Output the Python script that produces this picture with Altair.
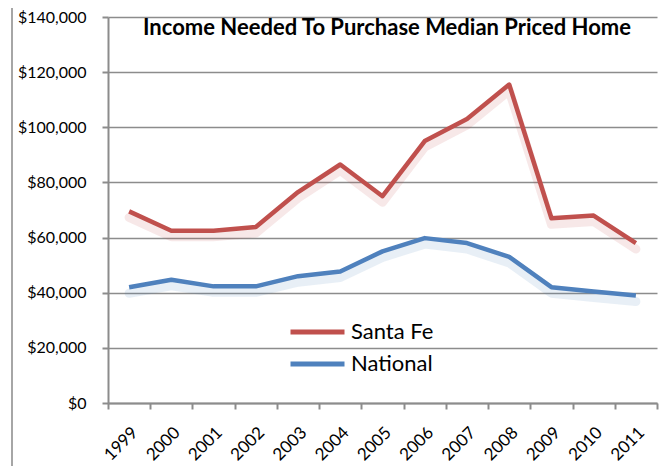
import altair as alt
import pandas as pd

years = [str(y) for y in range(1999, 2012)]
santa_fe = [69500, 62500, 62500, 63800, 76500, 86500, 75000, 95000, 103000, 115500, 67000, 68000, 58000]
national = [42000, 44700, 42300, 42300, 46000, 47700, 55000, 59800, 58000, 53000, 42000, 40400, 39000]
series = ["Santa Fe", "National"]
colors = ["#C0504D", "#4F81BD"]
y_ticks = [0, 20000, 40000, 60000, 80000, 100000, 120000, 140000]
title_text = "Income Needed To Purchase Median Priced Home"

df = pd.DataFrame({
    "Year": years * 2,
    "Value": santa_fe + national,
    "Series": [series[0]] * len(years) + [series[1]] * len(years),
})

FONT = "Lato"

x_enc = alt.X(
    "Year:O",
    bandPosition=0.5,
    scale=alt.Scale(type="band", paddingInner=0, paddingOuter=0),
    axis=alt.Axis(
        title=None, labelAngle=-45, labelAlign="right", labelBaseline="top",
        tickBand="extent", grid=False, labelFontSize=17, labelFont=FONT,
        labelColor="#000000", domainColor="#8c8c8c", domainWidth=2,
        tickColor="#8c8c8c", tickWidth=2, tickSize=6, labelPadding=15,
    ),
)
y_enc = alt.Y(
    "Value:Q",
    scale=alt.Scale(domain=[0, 140000], nice=False),
    axis=alt.Axis(
        title=None, values=y_ticks, format="$,.0f", labelFontSize=16, labelFont=FONT,
        labelColor="#000000", domainColor="#8c8c8c", domainWidth=2,
        tickColor="#8c8c8c", tickWidth=2, tickSize=6, labelPadding=16,
        gridColor="#8c8c8c", gridWidth=1.5,
    ),
)

base = alt.Chart(df)

shadows = [
    base.transform_filter(alt.datum.Series == s).mark_line(
        color=c, strokeWidth=9, opacity=0.13, yOffset=6, strokeJoin="round", strokeCap="round"
    ).encode(x=x_enc, y=y_enc)
    for s, c in zip(series, colors)
]

lines = base.mark_line(strokeWidth=4.5, strokeJoin="round").encode(
    x=x_enc,
    y=y_enc,
    color=alt.Color(
        "Series:N",
        scale=alt.Scale(domain=series, range=colors),
        legend=alt.Legend(
            title=None, orient="none", legendX=180, legendY=300,
            symbolType="stroke", symbolSize=2916, symbolStrokeWidth=5,
            labelFontSize=22, labelFont=FONT, labelColor="#000000",
            clipHeight=30, rowPadding=2, labelOffset=4,
        ),
    ),
)

one = pd.DataFrame({"t": [title_text]})
title = alt.Chart(one).mark_text(
    font=FONT, fontSize=22, fontWeight="bold", color="#000000", align="center", baseline="middle"
).encode(text="t:N", x=alt.value(279), y=alt.value(11))

border = alt.Chart(one).mark_rect(
    fillOpacity=0, stroke="#a6a6a6", strokeWidth=2
).encode(x=alt.value(-96), x2=alt.value(559), y=alt.value(-12), y2=alt.value(480))

chart = alt.layer(border, *shadows, lines, title).properties(
    width=549, height=386,
    autosize=alt.AutoSizeParams(type="none"),
    padding={"left": 100, "top": 9, "right": 3, "bottom": 63},
).configure_view(stroke=None)

chart.save("out.html", embed_options={"renderer": "svg", "actions": False})
